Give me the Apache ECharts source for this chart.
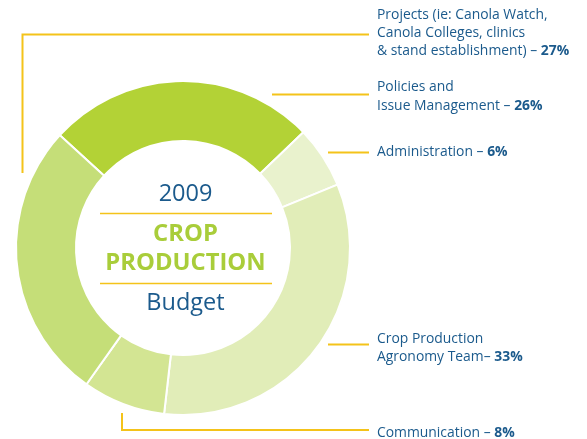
<!DOCTYPE html>
<html><head><meta charset="utf-8">
<script src="https://cdn.jsdelivr.net/npm/echarts@6/dist/echarts.min.js"></script>
<style>html,body{margin:0;padding:0;background:#fff}#c{width:587px;height:439px}</style>
</head><body><div id="c"></div>
<script>
const categories = ['Policies and\nIssue Management', 'Administration', 'Crop Production\nAgronomy Team', 'Communication', 'Projects (ie: Canola Watch,\nCanola Colleges, clinics\n& stand establishment)'];
const values = [26, 6, 33, 8, 27];
const sliceColors = ['#b3d236', '#e9f2cd', '#e1edb8', '#d3e593', '#c5de78'];
const separators = [' – ', ' – ', '– ', ' – ', ' – '];
const centerYear = '2009';
const centerTitle = ['CROP', 'PRODUCTION'];
const centerSub = 'Budget';

const BLUE = '#1b5a8c', YEL = '#f4c31a', GREEN = '#a9cd3a';
const FONT = 'Open Sans';
const cx = 183, cy = 248, tx = 185.5;

// label anchor (top of first line) per category
const labelTop = [78, 142.5, 329.5, 423.5, 5.5];
const graphics = [];
categories.forEach((c, i) => {
  const lines = c.split('\n');
  const last = lines.length - 1;
  const rich = lines.map((l, j) => j < last ? l : l + separators[i] + '{b|' + values[i] + '%}').join('\n');
  graphics.push({
    type: 'text', left: 377, top: labelTop[i],
    style: { text: rich, fill: BLUE, font: '13.9px "' + FONT + '"', lineHeight: 18.4,
      rich: { b: { fontWeight: 'bold', fill: BLUE, fontSize: 13.9, fontFamily: FONT } } }
  });
});
const lineStyle = { stroke: YEL, lineWidth: 2, fill: null };
graphics.push({ type: 'polyline', shape: { points: [[22.5, 173], [22.5, 34.5], [369, 34.5]] }, style: lineStyle });
graphics.push({ type: 'polyline', shape: { points: [[272, 94.5], [369, 94.5]] }, style: lineStyle });
graphics.push({ type: 'polyline', shape: { points: [[328, 152.5], [369, 152.5]] }, style: lineStyle });
graphics.push({ type: 'polyline', shape: { points: [[328, 344.5], [369, 344.5]] }, style: lineStyle });
graphics.push({ type: 'polyline', shape: { points: [[122, 413], [122, 430], [369, 430]] }, style: lineStyle });
// center text
graphics.push({ type: 'text', x: tx, y: 206, style: { text: centerYear, fill: BLUE, font: '23.5px "' + FONT + '"', textAlign: 'center', textVerticalAlign: 'bottom' } });
graphics.push({ type: 'line', shape: { x1: 100, y1: 213.5, x2: 272, y2: 213.5 }, style: { stroke: YEL, lineWidth: 1.5 } });
graphics.push({ type: 'text', x: tx, y: 246, style: { text: centerTitle[0], fill: GREEN, font: 'bold 23.8px "' + FONT + '"', textAlign: 'center', textVerticalAlign: 'bottom' } });
graphics.push({ type: 'text', x: tx, y: 275.2, style: { text: centerTitle[1], fill: GREEN, font: 'bold 23.8px "' + FONT + '"', textAlign: 'center', textVerticalAlign: 'bottom' } });
graphics.push({ type: 'line', shape: { x1: 100, y1: 283.5, x2: 272, y2: 283.5 }, style: { stroke: YEL, lineWidth: 1.5 } });
graphics.push({ type: 'text', x: tx, y: 315, style: { text: centerSub, fill: BLUE, font: '23.5px "' + FONT + '"', textAlign: 'center', textVerticalAlign: 'bottom' } });

const chart = echarts.init(document.getElementById('c'), null, { renderer: 'canvas' });
chart.setOption({
  animation: false,
  backgroundColor: '#fff',
  series: [{
    type: 'pie',
    center: [cx, cy],
    radius: [107, 167],
    startAngle: 137.5,
    clockwise: true,
    silent: true,
    label: { show: false },
    labelLine: { show: false },
    itemStyle: { borderColor: '#fff', borderWidth: 2 },
    data: categories.map((c, i) => ({ name: c, value: values[i], itemStyle: { color: sliceColors[i] } }))
  }],
  graphic: graphics
});
</script></body></html>
